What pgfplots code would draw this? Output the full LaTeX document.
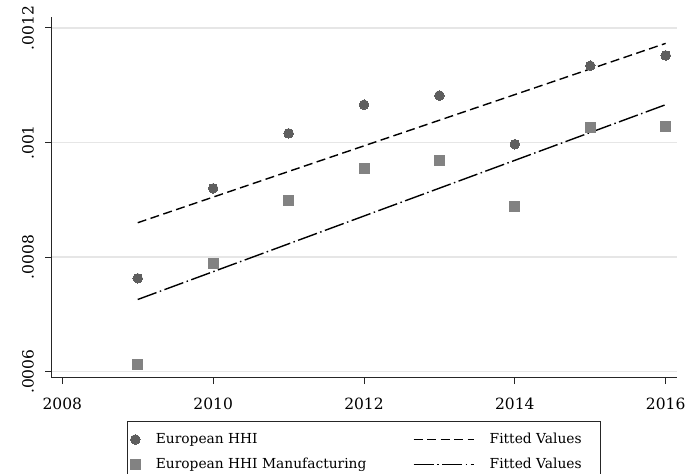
\documentclass[border=0pt]{standalone}
\usepackage{fontspec}
\setmainfont{DejaVu Serif}
\usepackage{pgfplots}
\pgfplotsset{compat=1.18}
\definecolor{circ}{HTML}{5E5E5E}
\definecolor{sq}{HTML}{828282}
\definecolor{gridc}{HTML}{E6E6E6}
\pgfplotsset{
 markleg/.style={legend image code/.code={\draw[##1] plot coordinates {(5pt,0pt)};}},
 lineleg/.style={legend image code/.code={\draw[##1] (0pt,0pt) -- (60pt,0pt);}},
}
\begin{document}
\begin{tikzpicture}[x=1pt,y=1pt]
\path[use as bounding box] (0,0) rectangle (686,474);
\begin{axis}[
 at={(51.3pt,96pt)}, anchor=south west,
 scale only axis, width=625.4pt, height=361pt,
 xmin=2007.854, xmax=2016.146,
 ymin=0.000589, ymax=0.001219,
 axis lines=left, axis line style={-, line width=1pt, black!85},
 tick align=outside, major tick length=6pt,
 tick style={line width=1pt, black!85},
 xtick={2008,2010,2012,2014,2016}, xticklabels={2008,2010,2012,2014,2016},
 ytick={0.0006,0.0008,0.001,0.0012}, yticklabels={.0006,.0008,.001,.0012},
 scaled y ticks=false,
 yticklabel style={xshift=-8pt, rotate=90, anchor=south},
 xticklabel style={yshift=-10pt},
 ymajorgrids, major grid style={gridc, line width=1.5pt},
 tick label style={font=\fontsize{15.5}{18}\selectfont},
 clip=false,
 legend style={at={(0.5,-0.1191)}, anchor=north, draw=black!85, line width=1pt,
   font=\fontsize{13.8}{17}\selectfont, inner xsep=3pt, inner ysep=9pt, row sep=7pt,
   nodes={inner xsep=0pt, inner ysep=1pt, text height=12pt, text depth=4pt},
   /tikz/every odd column/.append style={column sep=15.5pt},
   /tikz/every even column/.append style={column sep=37pt}},
 legend columns=2, legend cell align=left,
]
\addplot[only marks, mark=*, mark size=4.8pt, mark options={fill=circ, draw=circ}, line width=0pt, markleg]
 coordinates {(2009,0.000763) (2010,0.000920) (2011,0.001016) (2012,0.001066)
  (2013,0.001082) (2014,0.000997) (2015,0.001134) (2016,0.001152)};
\addlegendentry{\makebox[220pt][l]{European HHI}}
\addplot[black, line width=1.4pt, dash pattern=on 9pt off 4.5pt, mark=none, lineleg]
 coordinates {(2009,0.000860) (2016,0.001173)};
\addlegendentry{\makebox[108pt][l]{Fitted Values}}
\addplot[only marks, mark=square*, mark size=5pt, mark options={fill=sq, draw=sq}, line width=0pt, markleg]
 coordinates {(2009,0.000613) (2010,0.000788) (2011,0.000899) (2012,0.000955)
  (2013,0.000969) (2014,0.000888) (2015,0.001026) (2016,0.001028)};
\addlegendentry{\makebox[220pt][l]{European HHI Manufacturing}}
\addplot[black, line width=1.4pt, dash pattern=on 20pt off 3.5pt on 1.5pt off 3.5pt, mark=none, lineleg]
 coordinates {(2009,0.000726) (2016,0.001066)};
\addlegendentry{\makebox[108pt][l]{Fitted Values}}
\end{axis}
\end{tikzpicture}
\end{document}
